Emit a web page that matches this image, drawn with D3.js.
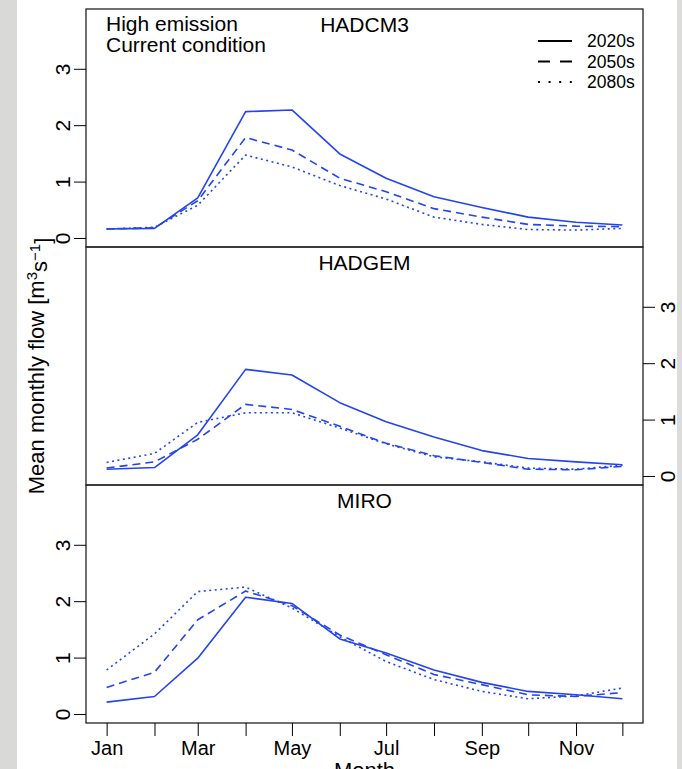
<!DOCTYPE html>
<html>
<head>
  <meta charset="utf-8">
  <style>
    body { margin: 0; background: #fff; }
    svg text { font-family: "Liberation Sans", Arial, sans-serif; fill: #000; }
    svg .tick line { stroke: #000; stroke-width: 1px; }
    svg .tick text { font-size: 20px; }
    svg .frame { fill: none; stroke: #222; stroke-width: 1.3px; }
    svg .flow { fill: none; stroke: #2344ee; stroke-width: 1.6px; stroke-linejoin: round; }
  </style>
</head>
<body>
<script src="https://d3js.org/d3.v7.min.js"></script>
<script>
  // months as day-of-year, labels only on odd months (like R drops them)
  var months    = ["Jan","Feb","Mar","Apr","May","Jun","Jul","Aug","Sep","Oct","Nov","Dec"];
  var monthDays = [0, 31, 59, 90, 120, 151, 181, 212, 243, 273, 304, 334];
  var yTicks    = [0, 1, 2, 3];
  var models    = ["HADCM3", "HADGEM", "MIRO"];
  var periods   = ["2020s", "2050s", "2080s"];

  // mean monthly flow [m3/s]
  var hadcm3_2020s = [0.16, 0.17, 0.71, 2.24, 2.27, 1.49, 1.06, 0.73, 0.54, 0.37, 0.28, 0.23];
  var hadcm3_2050s = [0.16, 0.18, 0.66, 1.78, 1.56, 1.06, 0.82, 0.52, 0.37, 0.24, 0.21, 0.20];
  var hadcm3_2080s = [0.16, 0.19, 0.58, 1.47, 1.26, 0.93, 0.69, 0.37, 0.24, 0.15, 0.14, 0.17];

  var hadgem_2020s = [0.12, 0.15, 0.73, 1.89, 1.79, 1.30, 0.96, 0.69, 0.45, 0.31, 0.25, 0.20];
  var hadgem_2050s = [0.14, 0.25, 0.65, 1.27, 1.18, 0.88, 0.58, 0.36, 0.24, 0.12, 0.11, 0.17];
  var hadgem_2080s = [0.24, 0.40, 0.95, 1.12, 1.12, 0.85, 0.57, 0.34, 0.25, 0.14, 0.12, 0.19];

  var miro_2020s   = [0.21, 0.31, 0.99, 2.07, 1.96, 1.33, 1.08, 0.78, 0.56, 0.40, 0.34, 0.27];
  var miro_2050s   = [0.47, 0.74, 1.67, 2.18, 1.92, 1.40, 1.05, 0.70, 0.52, 0.34, 0.31, 0.38];
  var miro_2080s   = [0.78, 1.42, 2.17, 2.25, 1.88, 1.37, 0.93, 0.61, 0.40, 0.27, 0.32, 0.46];

  var series = [
    [hadcm3_2020s, hadcm3_2050s, hadcm3_2080s],
    [hadgem_2020s, hadgem_2050s, hadgem_2080s],
    [miro_2020s,   miro_2050s,   miro_2080s]
  ];

  var width = 682, height = 769;
  var left = 86, right = 643, plotTop = 9, panelH = 238;
  var dashes = [null, "8,5", "2,3.5"];
  var legendDashes = [null, "12,10", "2,8.6"];

  var svg = d3.select("body").append("svg")
      .attr("width", width)
      .attr("height", height);

  // grey photo strips at the edges
  svg.append("rect").attr("x", 0).attr("y", 0).attr("width", 17).attr("height", height)
      .style("fill", "#d9d9d7");
  svg.append("rect").attr("x", 677).attr("y", 0).attr("width", 5).attr("height", height)
      .style("fill", "#dcdcda");

  var x = d3.scaleLinear().domain([-13.36, 347.36]).range([left, right]);

  models.forEach(function (name, i) {
    var y0 = plotTop + i * panelH;
    var y = d3.scaleLinear().domain([-0.16, 4.06]).range([y0 + panelH, y0]);
    var g = svg.append("g");

    var line = d3.line()
      .x(function (d, j) { return x(monthDays[j]); })
      .y(function (d) { return y(d); });

    series[i].forEach(function (vals, k) {
      g.append("path")
          .classed("flow", true)
          .attr("d", line(vals))
          .style("stroke-dasharray", dashes[k]);
    });

    g.append("rect")
        .classed("frame", true)
        .attr("x", left).attr("y", y0)
        .attr("width", right - left).attr("height", panelH);

    // y axis: left on 1 and 3, right on the middle panel
    var onRight = (i === 1);
    var axis = (onRight ? d3.axisRight(y) : d3.axisLeft(y))
        .tickValues(yTicks)
        .tickSize(12)
        .tickFormat(d3.format("d"));
    var ya = g.append("g")
        .attr("transform", "translate(" + (onRight ? right : left) + ",0)")
        .call(axis);
    ya.select(".domain").remove();
    ya.selectAll(".tick text")
        .attr("x", 0).attr("dy", 0)
        .style("text-anchor", "middle")
        .style("font-size", "21px")
        .attr("transform", onRight ? "translate(32,0) rotate(-90)" : "translate(-16,0) rotate(-90)");

    g.append("text")
        .attr("x", (left + right) / 2)
        .attr("y", y0 + 23)
        .style("text-anchor", "middle")
        .style("font-size", "21px")
        .text(name);
  });

  // x axis under the last panel
  var xa = svg.append("g")
      .attr("transform", "translate(0," + (plotTop + 3 * panelH) + ")")
      .call(d3.axisBottom(x)
        .tickValues(monthDays)
        .tickSize(13)
        .tickFormat(function (d, j) { return j % 2 === 0 ? months[j] : ""; }));
  xa.select(".domain").remove();
  xa.selectAll(".tick text").attr("y", 32).attr("dy", 0);

  // annotation
  svg.append("text").attr("x", 106).attr("y", 31)
      .style("font-size", "21px").text("High emission");
  svg.append("text").attr("x", 106).attr("y", 52)
      .style("font-size", "21px").text("Current condition");

  // legend
  periods.forEach(function (p, k) {
    var ly = 41 + k * 20.5;
    svg.append("line")
        .attr("x1", 538).attr("x2", 572)
        .attr("y1", ly).attr("y2", ly)
        .style("stroke", "#000")
        .style("stroke-width", 2)
        .style("stroke-dasharray", legendDashes[k]);
    svg.append("text")
        .attr("x", 587).attr("y", ly)
        .attr("dy", "0.35em")
        .style("font-size", "17.5px")
        .text(p);
  });

  // axis titles
  var yl = svg.append("text")
      .attr("transform", "translate(44," + (plotTop + 1.5 * panelH) + ") rotate(-90)")
      .style("text-anchor", "middle")
      .style("font-size", "22px");
  yl.append("tspan").text("Mean monthly flow [m");
  yl.append("tspan").attr("dy", "-0.45em").style("font-size", "15px").text("3");
  yl.append("tspan").attr("dy", "0.45em").text("s");
  yl.append("tspan").attr("dy", "-0.45em").style("font-size", "15px").text("\u22121");
  yl.append("tspan").attr("dy", "0.45em").text("]");

  svg.append("text")
      .attr("x", (left + right) / 2)
      .attr("y", 778)
      .style("text-anchor", "middle")
      .style("font-size", "22px")
      .text("Month");
</script>
</body>
</html>
